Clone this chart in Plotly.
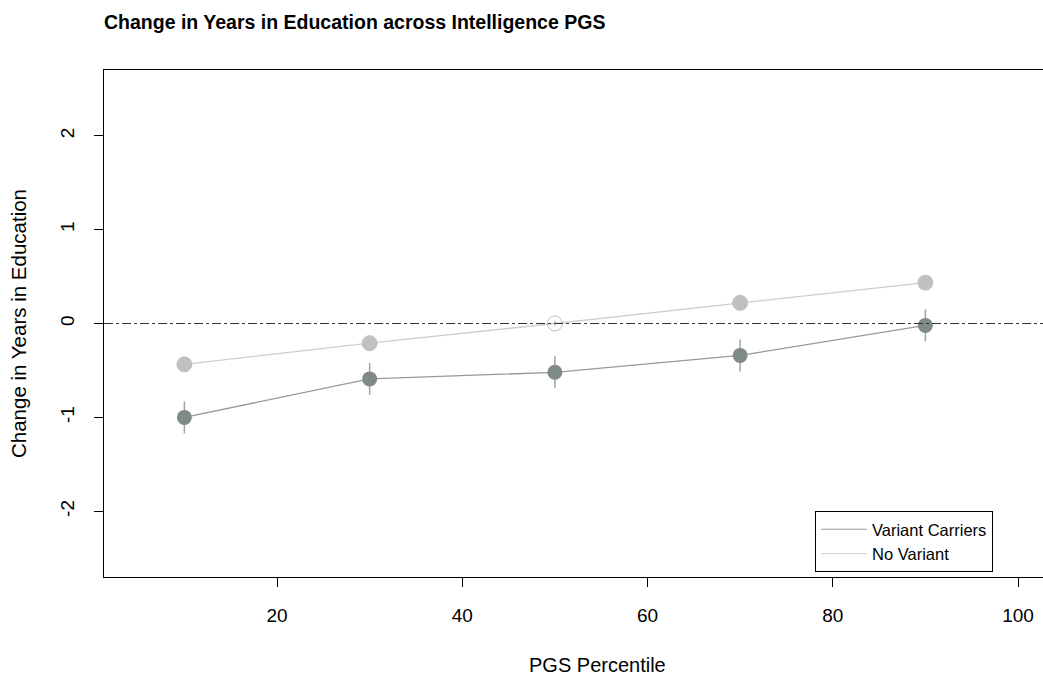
import plotly.graph_objects as go

percentile = [10, 30, 50, 70, 90]
variant_mean = [-1.00, -0.59, -0.52, -0.34, -0.02]
variant_err = [0.17, 0.17, 0.17, 0.17, 0.17]
novariant_mean = [-0.435, -0.21, 0.0, 0.22, 0.435]
novariant_err = [0.03, 0.03, 0.03, 0.03, 0.03]

x_ticks = [20, 40, 60, 80, 100]
y_ticks = [-2, -1, 0, 1, 2]

FONT = "Liberation Sans, Arial, sans-serif"
W, H = 1043, 677
L, R, T, B = 104, 0, 70, 100
PW, PH = W - L - R, H - T - B

fig = go.Figure()

fig.add_hline(y=0, line=dict(color="#333333", width=1, dash="dashdot"))

fig.add_trace(go.Scatter(
    x=percentile, y=novariant_mean, mode="lines+markers", showlegend=False,
    line=dict(color="#cfcfcf", width=1.3),
    marker=dict(size=15, color="#c0c0c0",
                symbol=["circle", "circle", "circle-open", "circle", "circle"],
                line=dict(width=1, color="#c0c0c0")),
    error_y=dict(type="data", array=novariant_err, color="#c0c0c0", thickness=1.3, width=0),
))
fig.add_trace(go.Scatter(
    x=percentile, y=variant_mean, mode="lines+markers", showlegend=False,
    line=dict(color="#959a99", width=1.3),
    marker=dict(size=15, color="#808a88"),
    error_y=dict(type="data", array=variant_err, color="#a0a5a4", thickness=1.5, width=0),
))

fig.add_trace(go.Scatter(x=[None], y=[None], mode="lines", name="Variant Carriers",
                         line=dict(color="#959a99", width=1)))
fig.add_trace(go.Scatter(x=[None], y=[None], mode="lines", name="No Variant",
                         line=dict(color="#cfcfcf", width=1)))

fig.add_annotation(text="PGS Percentile", xref="paper", yref="paper",
                   x=(597 - L) / PW, y=-(665 - (H - B)) / PH,
                   xanchor="center", yanchor="middle", showarrow=False,
                   font=dict(size=20, family=FONT, color="black"))

fig.update_layout(
    width=W, height=H,
    margin=dict(l=L, r=R, t=T, b=B),
    paper_bgcolor="white", plot_bgcolor="white",
    font=dict(family=FONT, size=20, color="black"),
    title=dict(text="<b>Change in Years in Education across Intelligence PGS</b>",
               x=104 / W, xanchor="left", y=1 - 22 / H, yanchor="middle",
               font=dict(size=19.5, family=FONT, color="black")),
    legend=dict(x=(815 - L) / PW, y=5 / PH, xanchor="left", yanchor="bottom",
                bordercolor="black", borderwidth=1, bgcolor="white",
                font=dict(size=16.5, family=FONT), itemwidth=46,
                tracegroupgap=0),
)
fig.update_xaxes(
    range=[20 - (277 - L) / 9.2625, 20 + (W - 277) / 9.2625],
    tickvals=x_ticks, ticks="outside", ticklen=9,
    tickcolor="black", showline=True, linecolor="black", linewidth=1, mirror=True,
    showgrid=False, zeroline=False, tickfont=dict(size=19), ticklabelstandoff=12,
)
fig.update_yaxes(
    range=[-2.7, 2.7], tickvals=y_ticks, ticktext=["-2", "-1", "0", "1", "2"],
    ticks="outside", ticklen=9, tickangle=-90, ticklabelstandoff=12,
    tickcolor="black", showline=True, linecolor="black", linewidth=1, mirror=False,
    showgrid=False, zeroline=False, tickfont=dict(size=19),
    title=dict(text="Change in Years in Education", font=dict(size=20.5), standoff=25),
)

fig.write_html("out.html", config={"displayModeBar": False},
               post_script="document.body.style.margin='0';document.body.style.overflow='hidden';")
